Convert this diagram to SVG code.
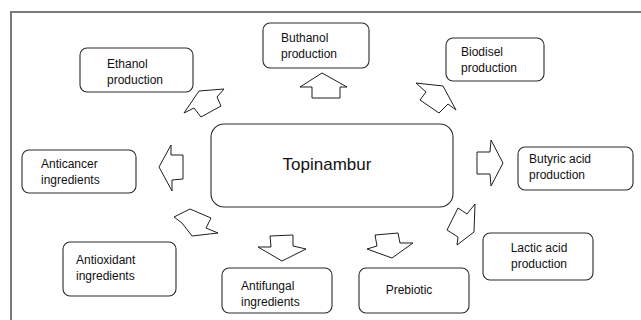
<svg xmlns="http://www.w3.org/2000/svg" width="641" height="320" viewBox="0 0 641 320">
<style>
.box{fill:#fff;stroke:#2a2a2a;stroke-width:1.1}
.t{font-family:"Liberation Sans",Arial,sans-serif;font-size:12px;fill:#111}
.big{font-family:"Liberation Sans",Arial,sans-serif;font-size:17px;fill:#111}
.arr{fill:#fff;stroke:#1e1e1e;stroke-width:1;stroke-linejoin:miter}
.frame{fill:none;stroke:#7a7a7a;stroke-width:2}
</style>
<rect width="641" height="320" fill="#fff"/>
<path class="frame" d="M11,320 V12 H641"/>

<g id="topinambur">
<rect class="box" x="211" y="124" width="242" height="83" rx="13"/>
<text class="big" x="327" y="170" text-anchor="middle">Topinambur</text>
</g>
<g id="ethanol">
<rect class="box" x="80" y="48" width="113" height="44" rx="7"/>
<text class="t" x="107" y="68">Ethanol</text>
<text class="t" x="107" y="84">production</text>
</g>
<g id="buthanol">
<rect class="box" x="263" y="23" width="106" height="45" rx="7"/>
<text class="t" x="281" y="42">Buthanol</text>
<text class="t" x="281" y="58">production</text>
</g>
<g id="biodisel">
<rect class="box" x="446" y="38" width="98" height="43" rx="7"/>
<text class="t" x="461" y="56">Biodisel</text>
<text class="t" x="461" y="72">production</text>
</g>
<g id="butyric">
<rect class="box" x="518" y="147" width="115" height="43" rx="7"/>
<text class="t" x="529" y="163">Butyric acid</text>
<text class="t" x="529" y="179">production</text>
</g>
<g id="lactic">
<rect class="box" x="483" y="233" width="110" height="47" rx="7" stroke-width="1.4"/>
<text class="t" x="539" y="252" text-anchor="middle">Lactic acid</text>
<text class="t" x="539" y="268" text-anchor="middle">production</text>
</g>
<g id="prebiotic">
<rect class="box" x="359" y="268" width="110" height="45" rx="7"/>
<text class="t" x="409" y="294" text-anchor="middle">Prebiotic</text>
</g>
<g id="antifungal">
<rect class="box" x="222" y="268" width="110" height="45" rx="7"/>
<text class="t" x="241" y="290">Antifungal</text>
<text class="t" x="241" y="306">ingredients</text>
</g>
<g id="antioxidant">
<rect class="box" x="63" y="242" width="113" height="54" rx="7"/>
<text class="t" x="76" y="264">Antioxidant</text>
<text class="t" x="76" y="280">ingredients</text>
</g>
<g id="anticancer">
<rect class="box" x="22" y="150" width="114" height="43" rx="7"/>
<text class="t" x="41" y="168">Anticancer</text>
<text class="t" x="41" y="184">ingredients</text>
</g>

<g id="connectors">
<polygon class="arr" points="184,113 199,91 224,89 217,97 221,106 201,117 194,108"/>
<polygon class="arr" points="322,73 347,87 340,87 340,98 312,98 312,87 300,87"/>
<polygon class="arr" points="416,83 443,86 456,110 448,104 439,113 420,100 426,92"/>
<polygon class="arr" points="503,163 491,186 490,174 477,174 477,152 490,152 491,140"/>
<polygon class="arr" points="475,204 474,232 457,245 458,237 447,230 458,208 467,214"/>
<polygon class="arr" points="392,258 367,249 377,246 375,235 398,233 400,243 413,243"/>
<polygon class="arr" points="282,261 258,247 271,247 270,236 293,235 293,246 306,249"/>
<polygon class="arr" points="174,217 190,209 211,218 206,228 218,233 192,236 182,223"/>
<polygon class="arr" points="159,167 171,145 171,155 183,155 183,179 172,180 172,191"/>
</g>
</svg>
